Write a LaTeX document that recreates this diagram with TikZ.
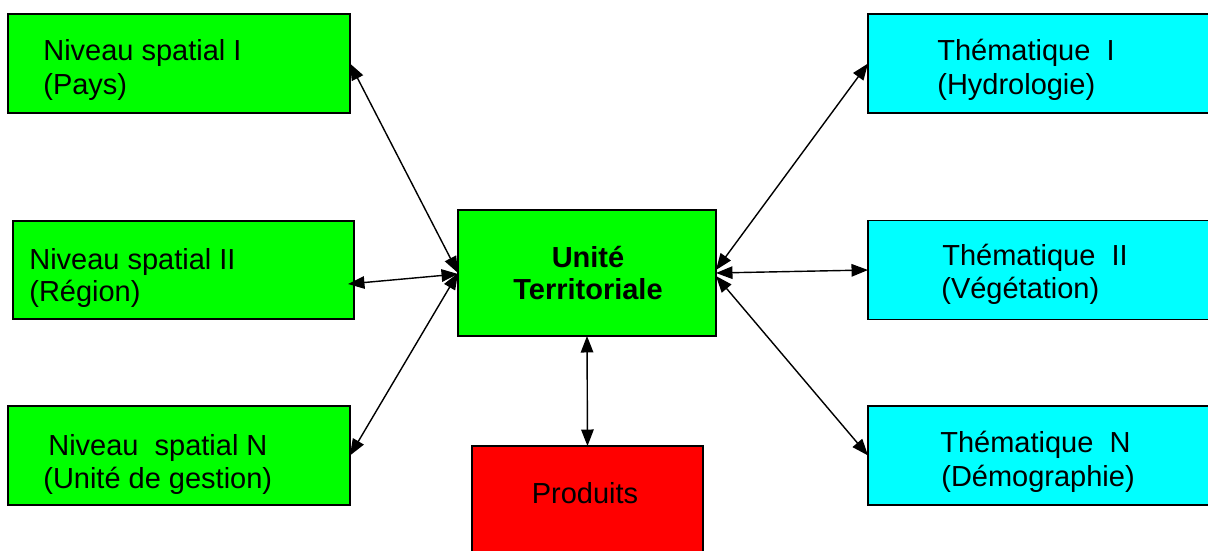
\documentclass[tikz,border=0pt]{standalone}
\usepackage{fontspec}
\setmainfont{Liberation Sans}
\usetikzlibrary{arrows.meta,calc}
\definecolor{boxgreen}{HTML}{00FF00}
\definecolor{boxcyan}{HTML}{00FFFF}
\definecolor{boxred}{HTML}{FF0000}
\tikzset{
  box/.style={draw=black, line width=0.8pt, rectangle, inner sep=0pt, outer sep=0pt},
  greenbox/.style={box, fill=boxgreen, minimum width=6.84cm, minimum height=1.98cm},
  cyanbox/.style={box, fill=boxcyan, minimum width=6.94cm, minimum height=1.98cm},
  txt/.style={inner sep=0pt, font=\fontsize{16.5}{19}\selectfont},
  link/.style={line width=0.8pt, {Triangle[length=0.33cm,width=0.25cm]}-{Triangle[length=0.33cm,width=0.25cm]}}
}
\begin{document}
\begin{tikzpicture}[x=0.02cm,y=-0.02cm]
\useasboundingbox (0,0) rectangle (1208,551);
% left boxes
\node[greenbox] (b1) at (179,63.5) {};
\node[greenbox, minimum width=6.82cm, minimum height=1.96cm] (b2) at (183.5,270) {};
\node[greenbox] (b3) at (179,455.5) {};
% centre
\node[box, fill=boxgreen, minimum width=5.16cm, minimum height=2.52cm] (c) at (587,273) {};
% products
\node[box, fill=boxred, minimum width=4.62cm, minimum height=2.4cm] (p) at (587.5,506) {};
% right boxes
\node[cyanbox] (t1) at (1041.5,63.5) {};
\node[cyanbox] (t2) at (1041.5,270) {};
\node[cyanbox] (t3) at (1041.5,455.5) {};
% texts
\node[txt, anchor=base west] (b1a) at (43,60) {Niveau spatial I};
\node[txt, anchor=base west] (b1b) at (43,94) {(Pays)};
\node[txt, anchor=base west] (b2a) at (29,269) {Niveau spatial II};
\node[txt, anchor=base west] (b2b) at (29,301) {(Région)};
\node[txt, anchor=base west] (b3a) at (48,455) {Niveau\ \ spatial N};
\node[txt, anchor=base west] (b3b) at (43,488) {(Unité de gestion)};
\node[txt, anchor=base, font=\fontsize{16.5}{19}\selectfont\bfseries] (ca) at (588,267) {Unité};
\node[txt, anchor=base, font=\fontsize{16.5}{19}\selectfont\bfseries] (cb) at (588,299) {Territoriale};
\node[txt, anchor=base] (pa) at (585,503) {Produits};
\node[txt, anchor=base west] (t1a) at (937,60) {Thématique\ \ I};
\node[txt, anchor=base west] (t1b) at (937,94) {(Hydrologie)};
\node[txt, anchor=base west] (t2a) at (942,265) {Thématique\ \ II};
\node[txt, anchor=base west] (t2b) at (941,298) {(Végétation)};
\node[txt, anchor=base west] (t3a) at (940,452) {Thématique\ \ N};
\node[txt, anchor=base west] (t3b) at (941,486) {(Démographie)};
% connectors
\draw[link] (b1.east) -- (c.west);
\draw[link] ($(b2.east)+(-6,14)$) -- ($(c.west)+(0,1)$);
\draw[link] (b3.east) -- (c.west);
\draw[link] (t1.west) -- ($(c.east)+(0,-3)$);
\draw[link] (t2.west) -- (c.east);
\draw[link] (t3.west) -- ($(c.east)+(0,3)$);
\draw[link] (c.south) -- (p.north);
\end{tikzpicture}
\end{document}
